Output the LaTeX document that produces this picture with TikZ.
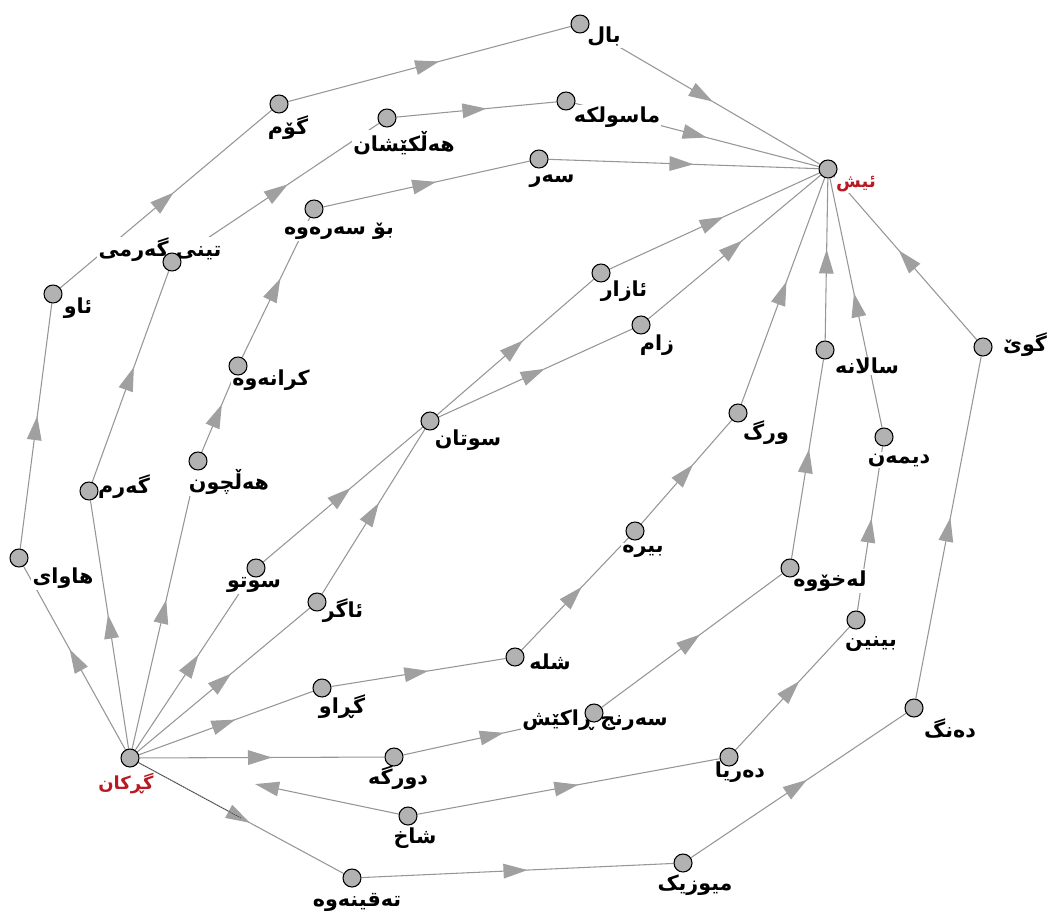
\documentclass[tikz,border=0pt]{standalone}
\usepackage{fontspec}
\TeXXeTstate=1
\newfontfamily\ku[Script=Arabic]{DejaVu Sans}
\usetikzlibrary{decorations.markings,arrows.meta,calc}
\pgfdeclarelayer{edgelayer}
\pgfdeclarelayer{labellayer}
\pgfsetlayers{edgelayer,labellayer,main}
\definecolor{edgegray}{RGB}{150,150,150}
\definecolor{arrowgray}{RGB}{160,160,160}
\definecolor{dotgray}{RGB}{178,178,178}
\definecolor{kured}{RGB}{185,25,35}
\tikzset{
  dot/.style={circle,draw=black,line width=0.8pt,fill=dotgray,minimum size=13.5pt,inner sep=0pt},
  lbl/.style={fill=white,inner sep=1pt,font=\ku\bfseries\fontsize{15.5}{17}\selectfont,text=black},
  redlbl/.style={lbl,text=kured,font=\ku\bfseries\fontsize{13.5}{15}\selectfont},
  edge/.style={draw=edgegray,line width=0.8pt,postaction={decorate},
    decoration={markings,mark=at position 0.5 with {\arrow[arrowgray,xshift=7.5pt]{Triangle[length=18pt,width=11pt]}}}},
  halfedge/.style={draw=edgegray,line width=0.8pt,-{Triangle[length=18pt,width=11pt,color=arrowgray]}},
  thindark/.style={draw=black!75,line width=0.45pt,dash pattern=on 1.2pt off 0.6pt}
}
\begin{document}
\begin{tikzpicture}[x=0.75pt,y=-0.75pt]
\useasboundingbox (0,0) rectangle (1053,920);
% dots
\node[dot] (root) at (130,758) {};
\node[dot] (ish) at (828,169) {};
\node[dot] (bal) at (580,24) {};
\node[dot] (mas) at (566,101) {};
\node[dot] (sar) at (539,159) {};
\node[dot] (hal) at (387,118) {};
\node[dot] (gom) at (279,104) {};
\node[dot] (bos) at (314,209) {};
\node[dot] (tin) at (172,262) {};
\node[dot] (aw) at (53,294) {};
\node[dot] (garm) at (89,491) {};
\node[dot] (halc) at (198,461) {};
\node[dot] (kra) at (238,366) {};
\node[dot] (haw) at (19,558) {};
\node[dot] (suto) at (256,568) {};
\node[dot] (agr) at (317,602) {};
\node[dot] (sutan) at (430,421) {};
\node[dot] (azar) at (601,273) {};
\node[dot] (zam) at (641,325) {};
\node[dot] (warg) at (738,413) {};
\node[dot] (sal) at (825,350) {};
\node[dot] (gwe) at (983,347) {};
\node[dot] (dim) at (884,437) {};
\node[dot] (bira) at (635,531) {};
\node[dot] (lax) at (790,568) {};
\node[dot] (binin) at (856,620) {};
\node[dot] (shla) at (515,657) {};
\node[dot] (graw) at (322,688) {};
\node[dot] (sarnj) at (594,713) {};
\node[dot] (dang) at (914,708) {};
\node[dot] (dorga) at (394,757) {};
\node[dot] (darya) at (729,757) {};
\node[dot] (shax) at (408,816) {};
\node[dot] (taq) at (352,878) {};
\node[dot] (muz) at (683,863) {};
\coordinate (shaxend) at ($(shax)!0.55!(root)$);
\coordinate (taqmid) at ($(root)!0.5!(taq)$);
% labels
\begin{pgfonlayer}{labellayer}
\node[redlbl] (rootl) at (126,784) {\beginR گڕکان\endR};
\node[redlbl] (ishl) at (856,184) {\beginR ئیش\endR};
\node[lbl] (ball) at (604,37) {\beginR بال\endR};
\node[lbl] (masl) at (617,117) {\beginR ماسولکە\endR};
\node[lbl] (sarl) at (552,181) {\beginR سەر\endR};
\node[lbl] (hall) at (404,143) {\beginR هەڵکێشان\endR};
\node[lbl] (goml) at (288,128) {\beginR گۆم\endR};
\node[lbl] (bosl) at (339,231) {\beginR بۆ سەرەوە\endR};
\node[lbl] (tinl) at (160,250) {\beginR تینی گەرمی\endR};
\node[lbl] (awl) at (78,308) {\beginR ئاو\endR};
\node[lbl] (garml) at (124,487) {\beginR گەرم\endR};
\node[lbl] (halcl) at (229,482) {\beginR هەڵچون\endR};
\node[lbl] (kral) at (271,380) {\beginR کرانەوە\endR};
\node[lbl] (hawl) at (63,578) {\beginR هاوای\endR};
\node[lbl] (sutol) at (254,585) {\beginR سوتو\endR};
\node[lbl] (agrl) at (343,611) {\beginR ئاگر\endR};
\node[lbl] (sutanl) at (468,440) {\beginR سوتان\endR};
\node[lbl] (azarl) at (624,291) {\beginR ئازار\endR};
\node[lbl] (zaml) at (657,345) {\beginR زام\endR};
\node[lbl] (wargl) at (766,433) {\beginR ورگ\endR};
\node[lbl] (sall) at (867,366) {\beginR سالانە\endR};
\node[lbl] (gwel) at (1025,345) {\beginR گوێ\endR};
\node[lbl] (diml) at (899,460) {\beginR دیمەن\endR};
\node[lbl] (biral) at (643,551) {\beginR بیرە\endR};
\node[lbl] (laxl) at (830,581) {\beginR لەخۆوە\endR};
\node[lbl] (mininl) at (871,644) {\beginR بینین\endR};
\node[lbl] (shlal) at (550,662) {\beginR شلە\endR};
\node[lbl] (grawl) at (342,707) {\beginR گڕاو\endR};
\node[lbl] (sarnjl) at (595,720) {\beginR سەرنج ڕاکێش\endR};
\node[lbl] (dangl) at (950,728) {\beginR دەنگ\endR};
\node[lbl] (dorgal) at (398,778) {\beginR دورگە\endR};
\node[lbl] (daryal) at (740,772) {\beginR دەریا\endR};
\node[lbl] (shaxl) at (415,838) {\beginR شاخ\endR};
\node[lbl] (taql) at (357,902) {\beginR تەقینەوە\endR};
\node[lbl] (muzl) at (695,885) {\beginR میوزیک\endR};
\end{pgfonlayer}
% edges
\begin{pgfonlayer}{edgelayer}
\draw[edge] (root) -- (haw);
\draw[edge] (root) -- (garm);
\draw[edge] (root) -- (halc);
\draw[edge] (root) -- (suto);
\draw[edge] (root) -- (agr);
\draw[edge] (root) -- (graw);
\draw[edge] (root) -- (dorga);
\draw[edge] (root) -- (taq);
\draw[thindark] (root) -- (taqmid);
\draw[halfedge] (shax) -- (shaxend);
\draw[edge] (haw) -- (aw);
\draw[edge] (aw) -- (gom);
\draw[edge] (gom) -- (bal);
\draw[edge] (bal) -- (ish);
\draw[edge] (garm) -- (tin);
\draw[edge] (tin) -- (hal);
\draw[edge] (hal) -- (mas);
\draw[edge] (mas) -- (ish);
\draw[edge] (halc) -- (kra);
\draw[edge] (kra) -- (bos);
\draw[edge] (bos) -- (sar);
\draw[edge] (sar) -- (ish);
\draw[edge] (suto) -- (sutan);
\draw[edge] (agr) -- (sutan);
\draw[edge] (sutan) -- (azar);
\draw[edge] (sutan) -- (zam);
\draw[edge] (azar) -- (ish);
\draw[edge] (zam) -- (ish);
\draw[edge] (graw) -- (shla);
\draw[edge] (shla) -- (bira);
\draw[edge] (bira) -- (warg);
\draw[edge] (warg) -- (ish);
\draw[edge] (dorga) -- (sarnj);
\draw[edge] (sarnj) -- (lax);
\draw[edge] (lax) -- (sal);
\draw[edge] (sal) -- (ish);
\draw[edge] (shax) -- (darya);
\draw[edge] (darya) -- (binin);
\draw[edge] (binin) -- (dim);
\draw[edge] (dim) -- (ish);
\draw[edge] (taq) -- (muz);
\draw[edge] (muz) -- (dang);
\draw[edge] (dang) -- (gwe);
\draw[edge] (gwe) -- (ish);
\end{pgfonlayer}
\end{tikzpicture}
\end{document}
